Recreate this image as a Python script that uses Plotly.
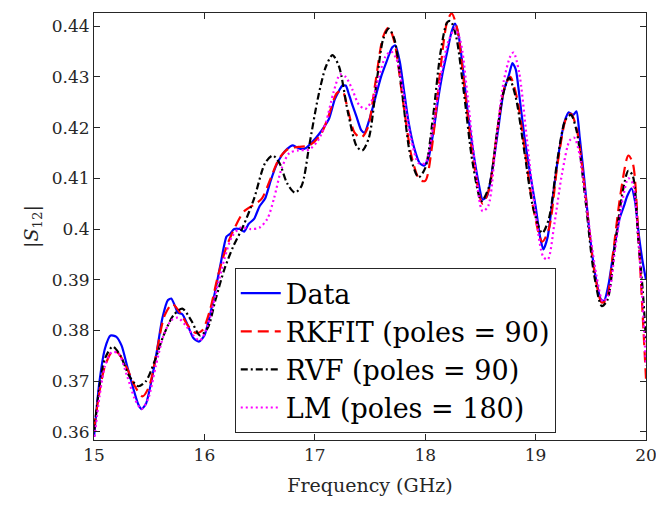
import plotly.graph_objects as go

# ---------------- data ----------------
data_x = [15.00, 15.05, 15.10, 15.15, 15.20, 15.25, 15.30, 15.35, 15.40, 15.43, 15.47, 15.52, 15.57, 15.62,
          15.67, 15.70, 15.73, 15.76, 15.80, 15.85, 15.90, 15.95, 16.00, 16.05, 16.10, 16.15, 16.20, 16.23,
          16.27, 16.32, 16.36, 16.40, 16.45, 16.50, 16.55, 16.60, 16.65, 16.70, 16.75, 16.80, 16.83, 16.87,
          16.92, 16.97, 17.03, 17.08, 17.13, 17.18, 17.22, 17.25, 17.28, 17.31, 17.34, 17.38, 17.42, 17.45,
          17.50, 17.55, 17.60, 17.65, 17.70, 17.73, 17.77, 17.81, 17.85, 17.90, 17.95, 17.99, 18.03, 18.08,
          18.12, 18.16, 18.20, 18.24, 18.27, 18.30, 18.34, 18.38, 18.43, 18.48, 18.52, 18.56, 18.61, 18.66,
          18.71, 18.76, 18.79, 18.82, 18.86, 18.90, 18.95, 19.00, 19.04, 19.07, 19.11, 19.16, 19.21, 19.26,
          19.30, 19.34, 19.37, 19.40, 19.44, 19.49, 19.54, 19.59, 19.62, 19.66, 19.71, 19.76, 19.80, 19.83,
          19.87, 19.90, 19.94, 19.97, 20.00]
data_y = [0.3590, 0.3700, 0.3765, 0.3790, 0.3788, 0.3770, 0.3730, 0.3690, 0.3655, 0.3645, 0.3655, 0.3700,
          0.3760, 0.3825, 0.3860, 0.3863, 0.3850, 0.3835, 0.3832, 0.3810, 0.3785, 0.3778, 0.3790, 0.3830,
          0.3880, 0.3935, 0.3985, 0.3990, 0.4000, 0.4000, 0.3995, 0.4010, 0.4020, 0.4045, 0.4060, 0.4095,
          0.4125, 0.4145, 0.4158, 0.4165, 0.4162, 0.4158, 0.4160, 0.4170, 0.4185, 0.4200, 0.4218, 0.4255,
          0.4273, 0.4283, 0.4283, 0.4265, 0.4245, 0.4220, 0.4195, 0.4190, 0.4220, 0.4260, 0.4300, 0.4330,
          0.4358, 0.4362, 0.4330, 0.4270, 0.4210, 0.4160, 0.4130, 0.4125, 0.4140, 0.4200, 0.4260, 0.4310,
          0.4350, 0.4390, 0.4405, 0.4385, 0.4320, 0.4240, 0.4160, 0.4095, 0.4058, 0.4065, 0.4120, 0.4195,
          0.4270, 0.4305, 0.4327, 0.4315, 0.4250, 0.4180, 0.4110, 0.4045, 0.3985, 0.3960, 0.3985, 0.4070,
          0.4150, 0.4210, 0.4230, 0.4225, 0.4232, 0.4180, 0.4100, 0.3990, 0.3910, 0.3862, 0.3858, 0.3890,
          0.3960, 0.4020, 0.4045, 0.4065, 0.4080, 0.4055, 0.3980, 0.3935, 0.3900]

rkfit_x = [15.00, 15.05, 15.10, 15.17, 15.22, 15.30, 15.37, 15.44, 15.50, 15.57, 15.64, 15.71, 15.78, 15.85,
           15.92, 15.98, 16.05, 16.12, 16.20, 16.28, 16.36, 16.45, 16.52, 16.60, 16.68, 16.76, 16.85, 16.95,
           17.05, 17.12, 17.20, 17.25, 17.30, 17.36, 17.42, 17.48, 17.55, 17.62, 17.67, 17.72, 17.80, 17.88,
           17.95, 18.00, 18.06, 18.13, 18.20, 18.24, 18.29, 18.36, 18.44, 18.52, 18.58, 18.65, 18.72, 18.77,
           18.83, 18.90, 18.98, 19.06, 19.12, 19.20, 19.28, 19.32, 19.37, 19.45, 19.53, 19.60, 19.64, 19.70,
           19.77, 19.84, 19.88, 19.93, 19.97, 20.00]
rkfit_y = [0.3605, 0.3680, 0.3730, 0.3760, 0.3755, 0.3725, 0.3690, 0.3670, 0.3690, 0.3760, 0.3830, 0.3852,
           0.3835, 0.3810, 0.3795, 0.3800, 0.3840, 0.3905, 0.3965, 0.4005, 0.4035, 0.4048, 0.4060, 0.4100,
           0.4140, 0.4158, 0.4162, 0.4165, 0.4185, 0.4220, 0.4268, 0.4272, 0.4235, 0.4190, 0.4180, 0.4200,
           0.4290, 0.4380, 0.4397, 0.4370, 0.4250, 0.4140, 0.4097, 0.4095, 0.4160, 0.4300, 0.4410, 0.4425,
           0.4395, 0.4270, 0.4130, 0.4050, 0.4080, 0.4190, 0.4280, 0.4300, 0.4260, 0.4160, 0.4040, 0.3975,
           0.4000, 0.4130, 0.4220, 0.4227, 0.4200, 0.4070, 0.3920, 0.3855, 0.3860, 0.3950, 0.4070, 0.4145,
           0.4130, 0.3990, 0.3830, 0.3705]

rvf_x = [15.00, 15.05, 15.10, 15.17, 15.24, 15.32, 15.40, 15.47, 15.55, 15.63, 15.72, 15.80, 15.88, 15.96,
         16.03, 16.10, 16.18, 16.26, 16.35, 16.45, 16.55, 16.62, 16.68, 16.75, 16.82, 16.88, 16.95, 17.03,
         17.10, 17.16, 17.22, 17.30, 17.38, 17.43, 17.49, 17.56, 17.62, 17.67, 17.72, 17.79, 17.87, 17.94,
         18.00, 18.07, 18.14, 18.20, 18.23, 18.28, 18.35, 18.43, 18.51, 18.58, 18.65, 18.71, 18.76, 18.82,
         18.90, 18.98, 19.06, 19.12, 19.20, 19.27, 19.32, 19.37, 19.45, 19.53, 19.60, 19.65, 19.72, 19.79,
         19.84, 19.88, 19.93, 19.97, 20.00]
rvf_y = [0.3600, 0.3690, 0.3745, 0.3768, 0.3750, 0.3710, 0.3690, 0.3700, 0.3740, 0.3790, 0.3830, 0.3843,
         0.3820, 0.3790, 0.3805, 0.3860, 0.3920, 0.3965, 0.4005, 0.4060, 0.4130, 0.4145, 0.4130, 0.4090,
         0.4072, 0.4085, 0.4165, 0.4260, 0.4320, 0.4343, 0.4320, 0.4230, 0.4163, 0.4155, 0.4180, 0.4290,
         0.4375, 0.4395, 0.4375, 0.4270, 0.4140, 0.4102, 0.4120, 0.4220, 0.4350, 0.4408, 0.4410, 0.4380,
         0.4270, 0.4130, 0.4055, 0.4085, 0.4190, 0.4270, 0.4298, 0.4260, 0.4150, 0.4040, 0.3992, 0.4020,
         0.4140, 0.4215, 0.4225, 0.4195, 0.4060, 0.3910, 0.3848, 0.3860, 0.3970, 0.4075, 0.4115, 0.4105,
         0.3980, 0.3880, 0.3780]

lm_x = [15.00, 15.05, 15.10, 15.16, 15.22, 15.30, 15.37, 15.43, 15.49, 15.56, 15.63, 15.70, 15.76, 15.83,
        15.90, 15.96, 16.03, 16.10, 16.18, 16.25, 16.33, 16.42, 16.50, 16.57, 16.63, 16.70, 16.77, 16.85,
        16.95, 17.03, 17.10, 17.17, 17.23, 17.28, 17.34, 17.40, 17.46, 17.52, 17.58, 17.64, 17.69, 17.74,
        17.80, 17.87, 17.94, 18.00, 18.07, 18.14, 18.21, 18.27, 18.32, 18.38, 18.45, 18.52, 18.57, 18.64,
        18.71, 18.77, 18.80, 18.85, 18.92, 19.00, 19.07, 19.11, 19.17, 19.24, 19.31, 19.35, 19.40, 19.47,
        19.55, 19.61, 19.66, 19.72, 19.79, 19.84, 19.88, 19.93, 19.97, 20.00]
lm_y = [0.3580, 0.3670, 0.3730, 0.3757, 0.3755, 0.3710, 0.3665, 0.3645, 0.3665, 0.3730, 0.3790, 0.3820,
        0.3825, 0.3810, 0.3790, 0.3780, 0.3810, 0.3870, 0.3940, 0.3985, 0.4003, 0.4000, 0.4003, 0.4020,
        0.4060, 0.4120, 0.4150, 0.4155, 0.4157, 0.4175, 0.4210, 0.4270, 0.4305, 0.4300, 0.4275, 0.4245,
        0.4237, 0.4255, 0.4300, 0.4340, 0.4350, 0.4335, 0.4270, 0.4180, 0.4130, 0.4130, 0.4200, 0.4300,
        0.4370, 0.4395, 0.4370, 0.4270, 0.4130, 0.4035, 0.4045, 0.4170, 0.4290, 0.4340, 0.4348, 0.4310,
        0.4180, 0.4030, 0.3945, 0.3940, 0.4010, 0.4110, 0.4175, 0.4180, 0.4145, 0.4030, 0.3910, 0.3857,
        0.3870, 0.3960, 0.4060, 0.4100, 0.4090, 0.3980, 0.3850, 0.3730]

y_tick_vals = [0.36, 0.37, 0.38, 0.39, 0.40, 0.41, 0.42, 0.43, 0.44]
y_tick_text = ["0.36", "0.37", "0.38", "0.39", "0.4", "0.41", "0.42", "0.43", "0.44"]
x_tick_vals = [15, 16, 17, 18, 19, 20]

series_names = ["Data", "RKFIT (poles = 90)", "RVF (poles = 90)", "LM (poles = 180)"]

FONT = "DejaVu Serif, Liberation Serif, serif"

fig = go.Figure()
fig.add_trace(go.Scatter(x=data_x, y=data_y, mode="lines", name=series_names[0],
                         line=dict(color="#0000FF", width=2.2, shape="spline", smoothing=0.6)))
fig.add_trace(go.Scatter(x=rkfit_x, y=rkfit_y, mode="lines", name=series_names[1],
                         line=dict(color="#FF0000", width=2.2, dash="11px,6px", shape="spline", smoothing=0.8)))
fig.add_trace(go.Scatter(x=rvf_x, y=rvf_y, mode="lines", name=series_names[2],
                         line=dict(color="#000000", width=2.2, dash="7px,3px,2px,3px", shape="spline", smoothing=0.8)))
fig.add_trace(go.Scatter(x=lm_x, y=lm_y, mode="lines", name=series_names[3],
                         line=dict(color="#FF00FF", width=2.2, dash="2px,3px", shape="spline", smoothing=0.8)))

axis_common = dict(showline=True, linecolor="#262626", linewidth=1, mirror="ticks",
                   ticks="inside", ticklen=6, tickcolor="#262626", showgrid=False, zeroline=False,
                   automargin=False, ticklabeloverflow="allow",
                   tickfont=dict(family=FONT, size=17, color="#262626"))

fig.update_xaxes(range=[15, 20], tickvals=x_tick_vals,
                 title=dict(text="Frequency (GHz)", font=dict(family=FONT, size=19, color="#262626"), standoff=14),
                 **axis_common)
fig.update_yaxes(range=[0.3584, 0.4426], tickvals=y_tick_vals, ticktext=y_tick_text,
                 title=dict(text="|<i>S</i><sub>12</sub>|", font=dict(family=FONT, size=19, color="#262626"), standoff=8),
                 **axis_common)

fig.update_layout(
    width=656, height=507,
    margin=dict(l=94, r=10, t=13, b=67),
    paper_bgcolor="white", plot_bgcolor="white",
    legend=dict(x=0.255, y=0.016, xanchor="left", yanchor="bottom",
                bgcolor="white", bordercolor="#262626", borderwidth=1,
                font=dict(family=FONT, size=27, color="black"),
                tracegroupgap=0, itemwidth=40),
    showlegend=True,
)

fig.write_html("out.html", config={"displayModeBar": False},
               post_script="document.body.style.margin='0';document.body.style.overflow='hidden';")
